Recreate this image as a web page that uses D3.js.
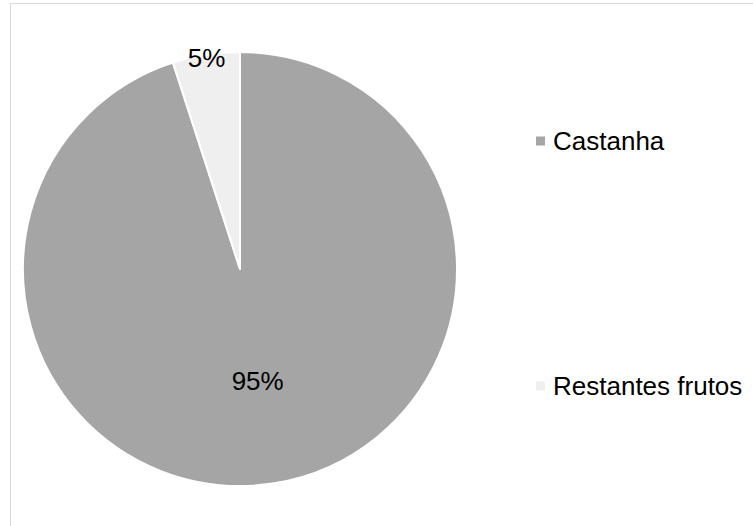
<!DOCTYPE html>
<html>
<head>
<meta charset="utf-8">
<script src="https://cdn.jsdelivr.net/npm/d3@7"></script>
<style>
  html, body { margin: 0; padding: 0; background: #ffffff; }
  svg { display: block; }
  text { font-family: "Liberation Sans", Arial, sans-serif; }
</style>
</head>
<body>
<svg id="chart" width="753" height="526"></svg>
<script>
// Share of fruit production
const categories = ["Castanha", "Restantes frutos"];
const values = [95, 5];
const labels = ["95%", "5%"];
const colors = ["#a5a5a5", "#efefef"];

const svg = d3.select("#chart");
const W = 753, H = 526;

// Chart frame (runs off the right and bottom edges)
svg.append("rect")
  .attr("x", 10.5).attr("y", 3.5)
  .attr("width", W + 20).attr("height", H + 20)
  .attr("fill", "#ffffff")
  .attr("stroke", "#d9d9d9")
  .attr("stroke-width", 1);

const cx = 240, cy = 269, radius = 217;

const data = categories.map((c, i) => ({ name: c, value: values[i], label: labels[i], color: colors[i] }));

const pie = d3.pie().sort(null).value(d => d.value);
const arcs = pie(data);

const arc = d3.arc().innerRadius(0).outerRadius(radius);

const g = svg.append("g").attr("transform", `translate(${cx},${cy})`);

g.selectAll("path.slice")
  .data(arcs)
  .enter().append("path")
  .attr("class", "slice")
  .attr("d", arc)
  .attr("fill", d => d.data.color)
  .attr("stroke", "#ffffff")
  .attr("stroke-width", 2)
  .attr("stroke-linejoin", "round");

// Data labels: the large slice gets its label inside, the small one near the rim
const labelRadius = d => (d.endAngle - d.startAngle) > Math.PI ? 113 : 214;
g.selectAll("text.value")
  .data(arcs)
  .enter().append("text")
  .attr("class", "value")
  .attr("text-anchor", "middle")
  .attr("dominant-baseline", "central")
  .attr("font-size", 26)
  .attr("fill", "#000000")
  .attr("transform", d => {
    const r = labelRadius(d);
    const c = d3.arc().innerRadius(r).outerRadius(r).centroid(d);
    return `translate(${c[0]},${c[1]})`;
  })
  .text(d => d.data.label);

// Legend
const legendY = d3.scalePoint().domain(categories).range([141, 386]);
const legend = svg.append("g");
const item = legend.selectAll("g.item")
  .data(data)
  .enter().append("g")
  .attr("class", "item")
  .attr("transform", d => `translate(536,${legendY(d.name)})`);

item.append("rect")
  .attr("x", 0).attr("y", -4.5)
  .attr("width", 9).attr("height", 9)
  .attr("fill", d => d.color);

item.append("text")
  .attr("x", 17)
  .attr("y", 0)
  .attr("dominant-baseline", "central")
  .attr("font-size", 26)
  .attr("fill", "#000000")
  .text(d => d.name);
</script>
</body>
</html>
